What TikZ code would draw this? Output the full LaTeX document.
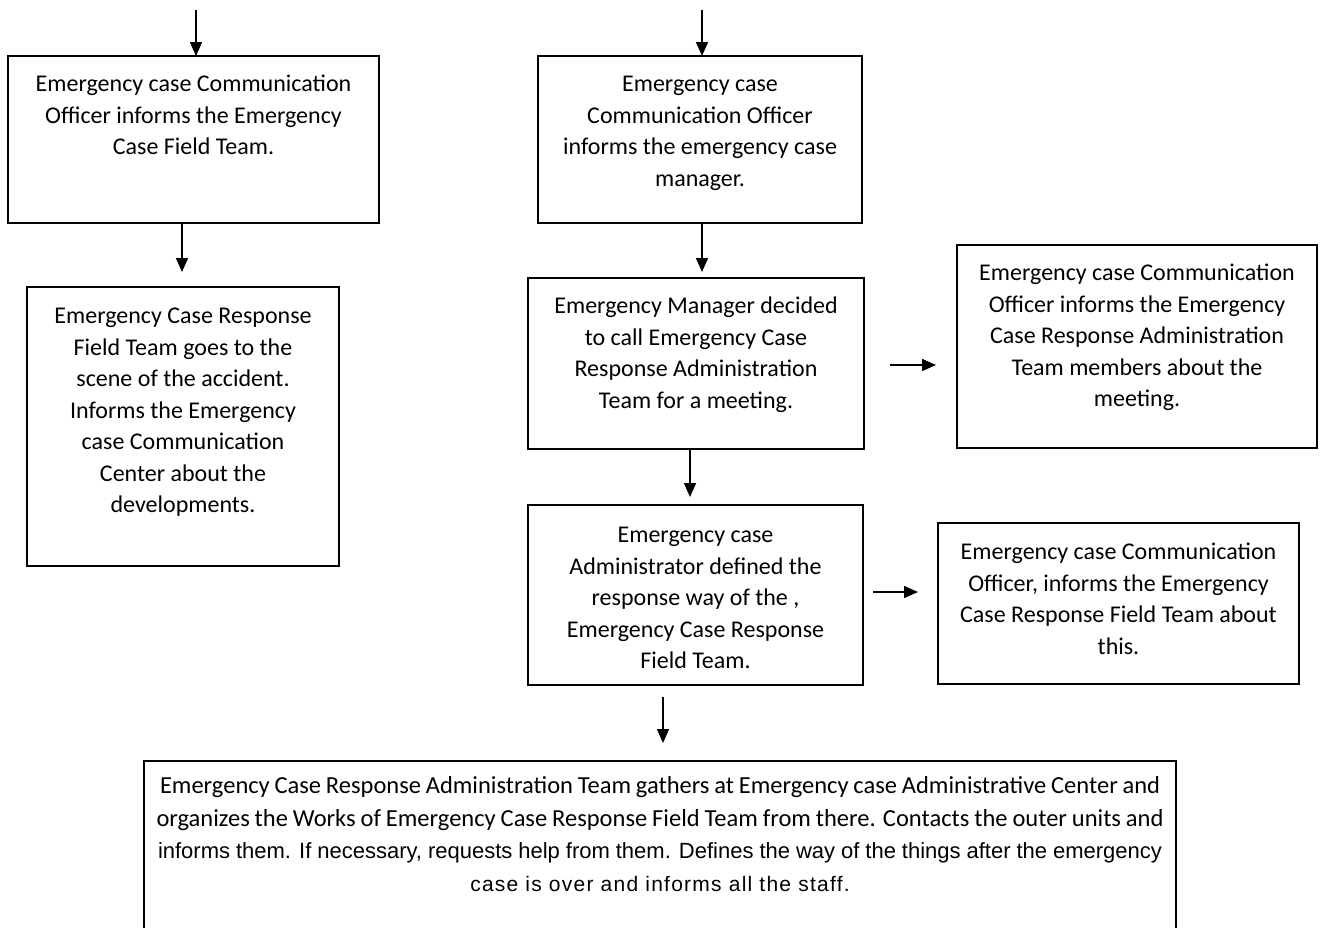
\documentclass[tikz,border=0pt]{standalone}
\usepackage{fontspec}
\setmainfont{Carlito}
\newfontfamily\arialf{Liberation Sans}
\newfontfamily\arialsp[LetterSpace=6]{Liberation Sans}
\usetikzlibrary{arrows.meta}
\tikzset{
  box/.style={draw, line width=1.5pt, inner sep=0pt, outer sep=0pt, anchor=north west},
  arr/.style={line width=1.5pt, -{Triangle[width=12pt,length=14pt]}},
}
\newcommand{\bxt}[4]{\parbox[t][#2][t]{#1}{\vspace*{#3}\centering\fontsize{24}{31.5}\selectfont\strut #4}}
\begin{document}
\begin{tikzpicture}[x=1pt,y=-1pt]
\clip (0,0) rectangle (1322,927);
\fill[white] (0,0) rectangle (1322,927);
\node[box] (b1) at (8,56) {\bxt{371pt}{167pt}{13.6pt}{Emergency case Communication\\Officer informs the Emergency\\Case Field Team.}};
\node[box] (b2) at (27,287) {\bxt{312pt}{279pt}{14.6pt}{Emergency Case Response\\Field Team goes to the\\scene of the accident.\\Informs the Emergency\\case Communication\\Center about the\\developments.}};
\node[box] (b3) at (538,56) {\bxt{324pt}{167pt}{13.6pt}{Emergency case\\Communication Officer\\informs the emergency case\\manager.}};
\node[box] (b4) at (528,278) {\bxt{336pt}{171pt}{13.6pt}{Emergency Manager decided\\to call Emergency Case\\Response Administration\\Team for a meeting.}};
\node[box] (b5) at (957,245) {\bxt{360pt}{203pt}{13.6pt}{Emergency case Communication\\Officer informs the Emergency\\Case Response Administration\\Team members about the\\meeting.}};
\node[box] (b6) at (528,505) {\bxt{335pt}{180pt}{15.6pt}{Emergency case\\Administrator defined the\\response way of the ,\\Emergency Case Response\\Field Team.}};
\node[box] (b7) at (938,523) {\bxt{361pt}{161pt}{14.6pt}{Emergency case Communication\\Officer, informs the Emergency\\Case Response Field Team about\\this.}};
\node[box] (b8) at (144,761) {\parbox[t][190pt][t]{1032pt}{\vspace*{10pt}\centering\fontsize{24.5}{32.5}\selectfont\strut
\makebox[1000pt][s]{Emergency Case Response Administration Team gathers at Emergency case Administrative Center and}\\
\makebox[1007pt][s]{organizes the Works of Emergency Case Response Field Team from there.  Contacts the outer units and}\\
{\arialf\fontsize{22}{32.5}\selectfont\makebox[1004pt][s]{informs them. If necessary, requests help from them. Defines the way of the things after the emergency}}\\
{\arialsp\fontsize{21}{32.5}\selectfont case is over and informs all the staff.}}};
\coordinate (t1) at (196,10);
\coordinate (t3) at (702,10);
\coordinate (e12) at (182,272);
\coordinate (e34) at (702,272);
\coordinate (e46) at (690,497);
\coordinate (s45) at (890,365);
\coordinate (e45) at (936,365);
\coordinate (s67) at (873,592);
\coordinate (e67) at (918,592);
\coordinate (s68) at (663,697);
\coordinate (e68) at (663,743);
\draw[arr] (t1) -- (t1 |- b1.north);
\draw[arr] (t3) -- (t3 |- b3.north);
\draw[arr] (e12 |- b1.south) -- (e12);
\draw[arr] (e34 |- b3.south) -- (e34);
\draw[arr] (e46 |- b4.south) -- (e46);
\draw[arr] (s45) -- (e45);
\draw[arr] (s67) -- (e67);
\draw[arr] (s68) -- (e68);
\end{tikzpicture}
\end{document}
